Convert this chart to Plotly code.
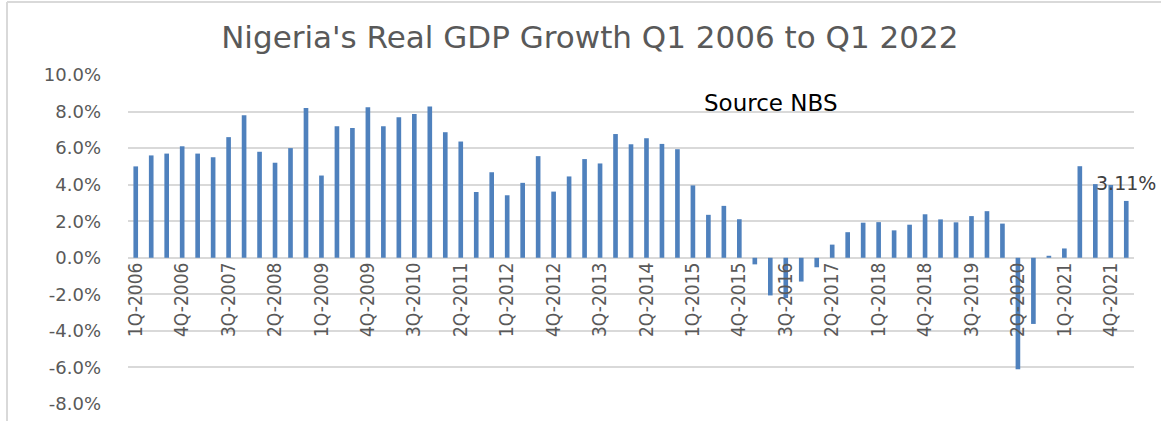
import plotly.graph_objects as go

# ---- data -------------------------------------------------------------
quarters = [f"{q}Q-{y}" for y in range(2006, 2023) for q in range(1, 5)][:65]

gdp_growth = [
    5.00, 5.60, 5.70, 6.10,   # 2006
    5.70, 5.50, 6.60, 7.80,   # 2007
    5.80, 5.20, 6.00, 8.20,   # 2008
    4.50, 7.20, 7.10, 8.23,   # 2009
    7.20, 7.69, 7.86, 8.28,   # 2010
    6.87, 6.36, 3.60, 4.68,   # 2011
    3.42, 4.10, 5.56, 3.62,   # 2012
    4.45, 5.40, 5.16, 6.77,   # 2013
    6.21, 6.54, 6.23, 5.94,   # 2014
    3.96, 2.35, 2.84, 2.11,   # 2015
    -0.36, -2.06, -2.20, -1.30,  # 2016
    -0.52, 0.72, 1.40, 1.92,  # 2017
    1.95, 1.50, 1.81, 2.38,   # 2018
    2.10, 1.94, 2.28, 2.55,   # 2019
    1.87, -6.10, -3.62, 0.11,  # 2020
    0.51, 5.01, 4.03, 3.98,   # 2021
    3.11,                     # 2022 Q1
]

x_tick_labels = quarters[::3]
y_tick_vals = [-8, -6, -4, -2, 0, 2, 4, 6, 8, 10]
y_tick_text = ["-8.0%", "-6.0%", "-4.0%", "-2.0%", "0.0%",
               "2.0%", "4.0%", "6.0%", "8.0%", "10.0%"]

title_text = "Nigeria's Real GDP Growth Q1 2006 to Q1 2022"
source_text = "Source NBS"
last_label = "3.11%"

# ---- figure -----------------------------------------------------------
GRID = "#d9d9d9"
TXT = "#595959"

fig = go.Figure()
fig.add_trace(go.Bar(
    x=quarters, y=gdp_growth,
    marker=dict(color="#4f81bd", line=dict(width=0)),
    hoverinfo="x+y",
))

fig.update_layout(
    width=1161, height=421,
    margin=dict(l=128, r=27, t=75, b=17, autoexpand=False),
    paper_bgcolor="white", plot_bgcolor="white",
    bargap=0.7,
    showlegend=False,
    title=dict(
        text=title_text,
        x=0.508, xanchor="center", xref="container",
        y=1 - 37 / 421, yanchor="middle", yref="container",
        font=dict(family="DejaVu Sans", size=31, color=TXT),
    ),
    xaxis=dict(
        type="category",
        categoryorder="array", categoryarray=quarters,
        range=[-0.5, len(quarters) - 0.5],
        tickmode="array", tickvals=x_tick_labels, ticktext=x_tick_labels,
        tickangle=-90,
        tickfont=dict(family="DejaVu Sans Condensed, sans-serif",
                      size=19, color=TXT),
        showgrid=False, showline=False, ticks="",
        anchor="free", position=8 / 18,
        automargin=False,
    ),
    yaxis=dict(
        range=[-8, 10],
        tickmode="array", tickvals=y_tick_vals, ticktext=y_tick_text,
        tickfont=dict(family="DejaVu Sans", size=18, color=TXT),
        showgrid=True, gridcolor=GRID, gridwidth=1.5,
        zeroline=True, zerolinecolor=GRID, zerolinewidth=1.5,
        showline=False, ticks="",
        ticklabelstandoff=26,
        automargin=False,
    ),
    annotations=[
        dict(text=source_text, xref="paper", yref="paper",
             x=(771 - 128) / 1006, y=(404 - 103) / 329,
             xanchor="center", yanchor="middle", showarrow=False,
             font=dict(family="DejaVu Sans", size=23, color="black")),
        dict(text=last_label, xref="x", yref="y",
             x=quarters[-1], y=4.1,
             xanchor="center", yanchor="middle", showarrow=False,
             font=dict(family="DejaVu Sans", size=19, color="#404040")),
    ],
    shapes=[
        dict(type="line", xref="paper", yref="paper",
             x0=(7 - 128) / 1006, x1=(7 - 128) / 1006,
             y0=(404 - 2) / 329, y1=(404 - 425) / 329,
             line=dict(color=GRID, width=2)),
        dict(type="line", xref="paper", yref="paper",
             x0=(7 - 128) / 1006, x1=(1165 - 128) / 1006,
             y0=(404 - 2) / 329, y1=(404 - 2) / 329,
             line=dict(color=GRID, width=2)),
    ],
)

fig.write_html("out.html")
